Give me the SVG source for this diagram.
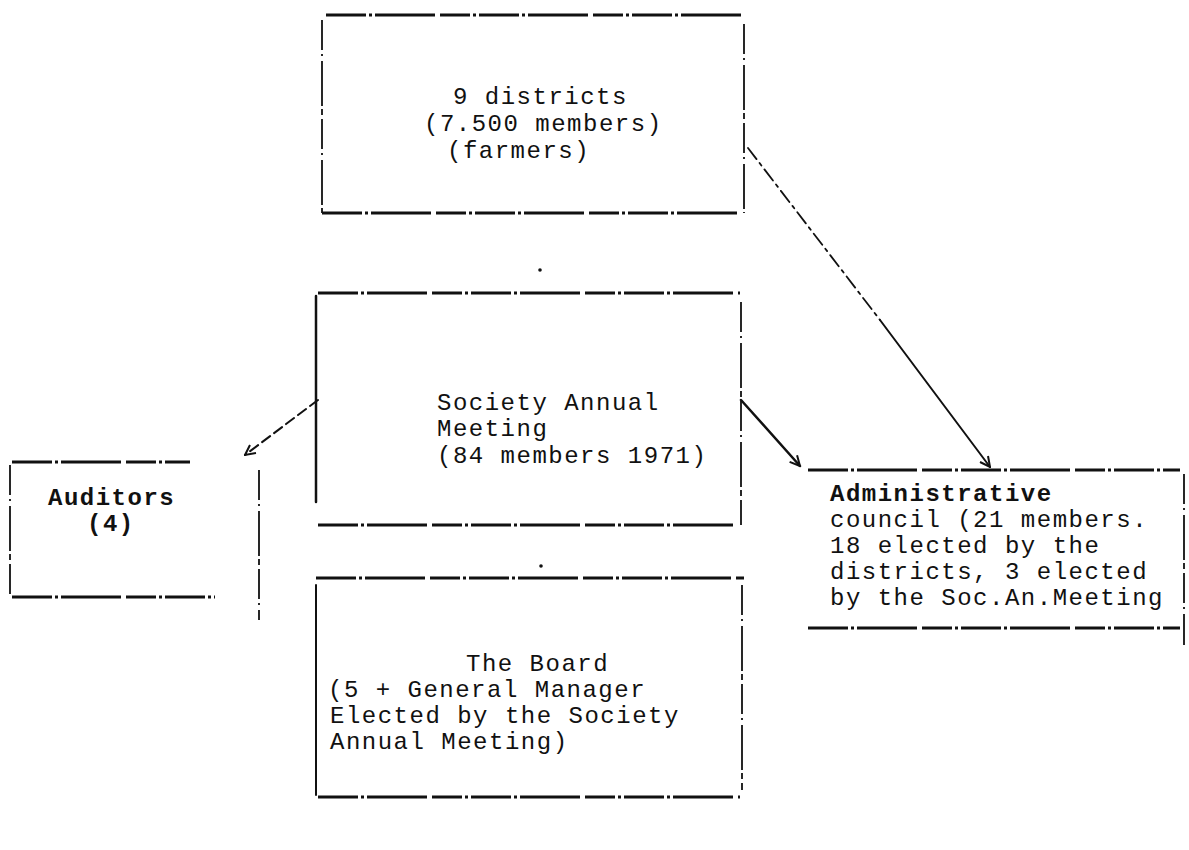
<svg xmlns="http://www.w3.org/2000/svg" width="1189" height="850" viewBox="0 0 1189 850">
<defs>
<style>
.t{font-family:"Liberation Mono","Courier New",monospace;font-size:24px;letter-spacing:1.5px;fill:#111}
.b{font-weight:bold}
.h{stroke:#111;stroke-width:3;fill:none;stroke-dasharray:40 3 3 3 60 5 30 3 3 3}
.v{stroke:#111;stroke-width:1.8;fill:none;stroke-dasharray:30 4 2 5 45 3 6 4}
.c{stroke:#111;fill:none;stroke-linecap:round}
</style>
<marker id="ah" viewBox="0 0 12 12" refX="11" refY="6" markerWidth="12" markerHeight="12" markerUnits="userSpaceOnUse" orient="auto">
<path d="M1,1 L11,6 L1,11" fill="none" stroke="#111" stroke-width="2"/>
</marker>
</defs>
<rect width="1189" height="850" fill="#fff"/>
<g id="districts">
<path class="h" d="M326,15 H741"/>
<path class="v" d="M322,20 V213"/>
<path class="v" d="M744,24 V213"/>
<path class="h" d="M322,213 H742"/>
<text class="t" x="453" y="104">9 districts</text>
<text class="t" x="424" y="131">(7.500 members)</text>
<text class="t" x="447" y="158">(farmers)</text>
</g>
<g id="society">
<path class="h" d="M318,293 H740"/>
<path class="c" stroke-width="2.5" d="M316,296 V502"/>
<path class="v" d="M741,302 V525"/>
<path class="h" d="M318,525 H738"/>
<text class="t" x="437" y="410">Society Annual</text>
<text class="t" x="437" y="436">Meeting</text>
<text class="t" x="437" y="463">(84 members 1971)</text>
</g>
<g id="auditors">
<path class="h" d="M12,462 H190"/>
<path class="v" d="M10,465 V597"/>
<path class="v" d="M259,470 V620"/>
<path class="h" d="M12,597 H215"/>
<text class="t b" x="48" y="505">Auditors</text>
<text class="t b" x="87" y="531">(4)</text>
</g>
<g id="admin">
<path class="h" d="M808,470 H1180"/>
<path class="v" d="M1184,474 V645"/>
<path class="h" d="M808,628 H1180"/>
<text class="t b" x="830" y="501">Administrative</text>
<text class="t" x="830" y="527">council (21 members.</text>
<text class="t" x="830" y="553">18 elected by the</text>
<text class="t" x="830" y="579">districts, 3 elected</text>
<text class="t" x="830" y="605">by the Soc.An.Meeting</text>
</g>
<g id="board">
<path class="h" d="M316,578 H744"/>
<path class="c" stroke-width="2" d="M316,585 V795"/>
<path class="v" d="M742,585 V790"/>
<path class="h" d="M318,797 H740"/>
<text class="t" x="466" y="671">The Board</text>
<text class="t" x="328" y="697">(5 + General Manager</text>
<text class="t" x="330" y="723">Elected by the Society</text>
<text class="t" x="330" y="749">Annual Meeting)</text>
</g>
<g id="connectors">
<circle cx="540" cy="270" r="1.8" fill="#111"/>
<circle cx="541" cy="566" r="1.8" fill="#111"/>
<path class="c" stroke-width="1.8" stroke-dasharray="14 5 3 5" d="M748,148 L880,320"/>
<path class="c" stroke-width="2" d="M880,320 L990,467" marker-end="url(#ah)"/>
<path class="c" stroke-width="2.5" d="M741,400 L800,466" marker-end="url(#ah)"/>
<path class="c" stroke-width="2" stroke-dasharray="10 5" d="M318,400 L245,455" marker-end="url(#ah)"/>
</g>
</svg>
